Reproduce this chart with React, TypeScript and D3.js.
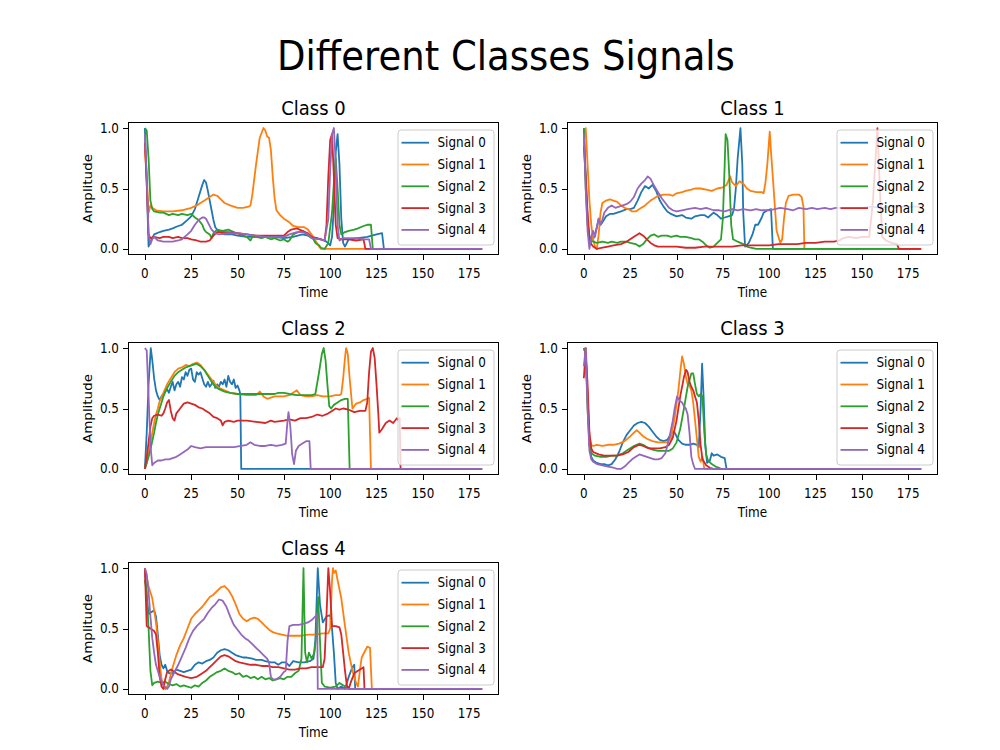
import React, { useEffect, useRef } from "react";
import * as d3 from "d3";

type Pt = [number, number];

const chartTitle = "Different Classes Signals";
const classNames = ["Class 0", "Class 1", "Class 2", "Class 3", "Class 4"];
const signalNames = ["Signal 0", "Signal 1", "Signal 2", "Signal 3", "Signal 4"];
const signalColors = ["#1f77b4", "#ff7f0e", "#2ca02c", "#d62728", "#9467bd"];
const xTicks = [0, 25, 50, 75, 100, 125, 150, 175];
const yTicks = [0, 0.5, 1];
const lastTime = 182;

// ---- Class 0 ----
const class0Signal0: Pt[] = [[0,1.0],[1,0.55],[2,0.02],[3,0.06],[5,0.12],[8,0.14],[10,0.15],[13,0.16],[15,0.17],[18,0.19],[20,0.2],[23,0.24],[25,0.27],[27,0.33],[29,0.43],[31,0.53],[32,0.57],[33,0.55],[34,0.48],[35,0.4],[36,0.32],[37,0.24],[38,0.18],[40,0.14],[43,0.12],[47,0.12],[50,0.11],[55,0.1],[60,0.1],[65,0.1],[70,0.1],[75,0.09],[80,0.1],[85,0.12],[88,0.11],[91,0.09],[95,0.08],[98,0.06],[100,0.03],[101,0.1],[102,0.35],[103,0.8],[104,0.95],[105,0.7],[106,0.25],[107,0.05],[108,0.02],[109,0.05],[110,0.08],[115,0.09],[120,0.1],[125,0.12],[128,0.13],[129,0],[182,0]];
const class0Signal1: Pt[] = [[0,0.82],[1,0.6],[2,0.3],[3,0.36],[4,0.34],[6,0.32],[10,0.31],[15,0.31],[20,0.32],[25,0.34],[28,0.36],[30,0.38],[33,0.41],[35,0.43],[37,0.45],[39,0.44],[41,0.41],[43,0.38],[46,0.36],[50,0.34],[53,0.34],[56,0.35],[57,0.36],[58,0.45],[60,0.7],[62,0.92],[64,1.0],[65,0.98],[66,0.93],[67,0.92],[68,0.82],[69,0.6],[70,0.42],[71,0.32],[73,0.28],[75,0.25],[78,0.22],[80,0.19],[83,0.18],[86,0.18],[88,0.16],[90,0.12],[92,0.07],[94,0.02],[95,0],[182,0]];
const class0Signal2: Pt[] = [[0,1.0],[1,0.98],[2,0.75],[3,0.4],[4,0.33],[5,0.31],[8,0.3],[10,0.3],[13,0.28],[15,0.29],[18,0.28],[20,0.29],[23,0.28],[25,0.29],[27,0.26],[29,0.24],[31,0.2],[32,0.16],[33,0.14],[35,0.12],[36,0.09],[37,0.13],[39,0.16],[42,0.15],[45,0.16],[48,0.14],[50,0.13],[53,0.11],[55,0.1],[57,0.07],[58,0.1],[60,0.1],[63,0.09],[65,0.1],[68,0.08],[70,0.09],[73,0.07],[75,0.08],[77,0.06],[78,0.07],[80,0.12],[83,0.14],[85,0.15],[87,0.13],[89,0.1],[91,0.08],[92,0.05],[94,0.03],[95,0.01],[97,0],[99,0.05],[101,0.3],[102,0.55],[103,0.75],[104,0.5],[105,0.2],[106,0.12],[108,0.14],[110,0.15],[113,0.16],[115,0.17],[118,0.19],[120,0.2],[122,0.2],[123,0],[182,0]];
const class0Signal3: Pt[] = [[0,0.88],[1,0.55],[2,0.12],[3,0.09],[5,0.1],[8,0.09],[10,0.1],[13,0.1],[15,0.09],[18,0.1],[20,0.09],[23,0.09],[25,0.08],[28,0.07],[30,0.06],[33,0.06],[35,0.07],[37,0.11],[39,0.14],[42,0.14],[45,0.14],[50,0.13],[55,0.12],[60,0.11],[65,0.11],[70,0.11],[75,0.11],[77,0.14],[79,0.16],[82,0.17],[85,0.15],[88,0.13],[90,0.1],[93,0.09],[95,0.08],[97,0.07],[98,0.2],[99,0.6],[100,0.9],[101,0.95],[102,0.6],[103,0.2],[104,0.09],[106,0.08],[110,0.08],[114,0.07],[118,0.08],[119,0],[182,0]];
const class0Signal4: Pt[] = [[0,0.95],[1,0.6],[2,0.12],[3,0.04],[4,0.08],[5,0.1],[7,0.07],[10,0.06],[15,0.06],[18,0.07],[20,0.08],[23,0.12],[25,0.15],[27,0.2],[29,0.24],[31,0.26],[32,0.26],[33,0.25],[34,0.22],[36,0.16],[38,0.13],[40,0.12],[45,0.13],[50,0.13],[55,0.12],[60,0.11],[65,0.1],[70,0.1],[75,0.1],[78,0.12],[82,0.14],[85,0.14],[88,0.12],[90,0.09],[95,0.08],[97,0.07],[99,0.25],[100,0.65],[101,0.95],[102,1.0],[103,0.7],[104,0.2],[105,0.07],[107,0.09],[110,0.09],[115,0.09],[118,0.08],[121,0.08],[122,0],[182,0]];

// ---- Class 1 ----
const class1Signal0: Pt[] = [[0,1.0],[1,0.6],[2,0.25],[3,0.05],[4,0.1],[5,0.08],[6,0.12],[7,0.18],[8,0.25],[9,0.2],[10,0.22],[12,0.27],[14,0.29],[16,0.29],[18,0.3],[20,0.31],[23,0.33],[25,0.33],[27,0.34],[29,0.4],[31,0.47],[33,0.52],[35,0.5],[37,0.53],[39,0.48],[41,0.4],[43,0.35],[45,0.31],[47,0.29],[50,0.27],[53,0.28],[55,0.26],[58,0.25],[60,0.27],[63,0.28],[65,0.28],[67,0.26],[70,0.3],[72,0.28],[74,0.25],[76,0.26],[78,0.27],[80,0.28],[81,0.33],[82,0.5],[83,0.75],[84.5,1.0],[85.5,0.7],[86,0.3],[87,0.02],[89,0.05],[91,0.12],[92.5,0.2],[94,0.2],[96,0.26],[97,0.3],[99,0.32],[101,0.33],[102,0],[182,0]];
const class1Signal1: Pt[] = [[0,0.9],[1,1.0],[2,0.7],[3,0.4],[4,0.2],[5,0.08],[6,0.02],[7,0],[8,0.12],[9,0.3],[10,0.38],[12,0.4],[14,0.41],[16,0.4],[18,0.39],[20,0.36],[22,0.34],[24,0.33],[26,0.31],[28,0.31],[30,0.33],[33,0.36],[36,0.4],[38,0.42],[40,0.44],[43,0.45],[46,0.45],[48,0.44],[50,0.46],[53,0.47],[55,0.48],[58,0.49],[60,0.5],[63,0.5],[66,0.49],[69,0.48],[72,0.5],[75,0.51],[77,0.53],[79,0.6],[80,0.55],[82,0.52],[84,0.56],[86,0.54],[88,0.5],[90,0.48],[93,0.47],[96,0.47],[97,0.46],[98,0.55],[99,0.7],[100.3,0.97],[101,0.8],[102.4,0.5],[104,0.15],[106,0.05],[107,0.08],[108,0.25],[109,0.38],[110.5,0.44],[113,0.45],[116,0.45],[117.5,0.43],[118.5,0.35],[119,0],[182,0]];
const class1Signal2: Pt[] = [[0,1.0],[1,0.5],[2,0.2],[3,0.1],[4,0.07],[5,0.06],[7,0.05],[10,0.06],[13,0.05],[15,0.06],[18,0.05],[20,0.06],[23,0.06],[25,0.05],[28,0.04],[30,0.02],[32,0.04],[34,0.08],[36,0.11],[38,0.12],[40,0.1],[42,0.11],[45,0.11],[47,0.1],[50,0.11],[52,0.1],[55,0.1],[58,0.09],[60,0.08],[62,0.08],[64,0.06],[66,0.03],[68,0.01],[70,0.02],[72,0.05],[74,0.08],[75,0.25],[76,0.7],[76.5,0.95],[77.5,0.9],[78.5,0.6],[79.5,0.2],[80.5,0.08],[83,0.06],[86,0.04],[88,0.02],[90,0.01],[93,0],[182,0]];
const class1Signal3: Pt[] = [[0,0.85],[1,0.6],[2,0.3],[3,0.1],[4,0.04],[5,0.02],[7,0],[10,0.01],[13,0.02],[16,0.03],[20,0.04],[23,0.06],[25,0.08],[27,0.1],[29,0.12],[30,0.13],[32,0.11],[34,0.08],[36,0.05],[38,0.03],[40,0.02],[45,0.02],[50,0.02],[55,0.01],[60,0.01],[65,0.02],[70,0.02],[75,0.02],[80,0.02],[85,0.03],[90,0.03],[95,0.03],[100,0.03],[105,0.04],[110,0.04],[115,0.04],[120,0.05],[125,0.05],[130,0.06],[135,0.06],[138,0.07],[140,0.09],[143,0.1],[147,0.09],[150,0.1],[154,0.1],[156,0.4],[158.4,1.0],[160,0.4],[161,0.1],[163,0.07],[166,0.05],[169,0.04],[170,0],[182,0]];
const class1Signal4: Pt[] = [[0,0.95],[1,0.5],[2,0.15],[3,0],[4,0.1],[5,0.15],[6,0.1],[7,0.18],[8,0.25],[9,0.2],[10,0.24],[11,0.3],[13,0.34],[15,0.36],[17,0.34],[19,0.35],[21,0.36],[23,0.37],[25,0.39],[27,0.43],[29,0.5],[31,0.54],[33,0.57],[34.5,0.6],[36,0.58],[38,0.52],[40,0.47],[42,0.42],[44,0.38],[46,0.34],[48,0.32],[50,0.31],[53,0.32],[56,0.33],[60,0.34],[63,0.33],[66,0.34],[70,0.32],[73,0.32],[76,0.31],[80,0.33],[83,0.32],[86,0.33],[90,0.32],[93,0.33],[96,0.32],[100,0.32],[103,0.33],[106,0.34],[110,0.33],[113,0.32],[116,0.34],[120,0.33],[123,0.34],[126,0.33],[130,0.34],[133,0.33],[136,0.34],[140,0.34],[145,0.34],[150,0.34],[155,0.35],[160,0.34],[165,0.35],[170,0.35],[175,0.35],[182,0.35]];

// ---- Class 2 ----
const class2Signal0: Pt[] = [[0,0],[1,0.3],[2,0.7],[3.2,1.0],[4,0.9],[5,0.75],[6,0.65],[7,0.6],[8,0.57],[9,0.6],[10,0.62],[12,0.66],[13,0.63],[14,0.68],[15,0.72],[16,0.65],[17,0.7],[18,0.72],[19,0.68],[20,0.76],[21,0.74],[22,0.8],[23,0.77],[24,0.82],[25,0.83],[26,0.74],[27,0.72],[28,0.8],[29,0.78],[30,0.8],[31,0.75],[32,0.7],[33,0.68],[34,0.72],[35,0.68],[36,0.7],[37,0.73],[38,0.67],[39,0.7],[40,0.68],[41,0.72],[42,0.7],[43,0.74],[44,0.68],[45,0.77],[46,0.72],[47,0.7],[48,0.74],[49,0.67],[50,0.69],[51,0.65],[51.5,0.62],[52,0],[182,0]];
const class2Signal1: Pt[] = [[0,0],[1,0.05],[2,0.13],[3,0.22],[4,0.3],[5,0.38],[6,0.45],[7,0.5],[8,0.56],[10,0.63],[12,0.7],[14,0.75],[16,0.8],[18,0.83],[20,0.84],[22,0.86],[24,0.85],[26,0.87],[28,0.88],[30,0.86],[32,0.82],[34,0.78],[36,0.74],[38,0.7],[40,0.67],[43,0.65],[46,0.63],[50,0.62],[55,0.61],[60,0.61],[62,0.64],[64,0.6],[66,0.58],[68,0.59],[70,0.6],[75,0.6],[78,0.61],[80,0.63],[82,0.65],[84,0.61],[87,0.6],[90,0.6],[93,0.61],[96,0.6],[100,0.6],[103,0.61],[105,0.61],[106,0.62],[107,0.75],[108,0.92],[108.6,1.0],[109.5,0.95],[110.5,0.75],[112,0.5],[114,0.54],[116,0.55],[118,0.57],[120,0.58],[121,0.59],[122,0],[182,0]];
const class2Signal2: Pt[] = [[0,0],[1,0.05],[2,0.1],[3,0.16],[4,0.23],[5,0.3],[6,0.38],[7,0.45],[8,0.5],[10,0.6],[12,0.67],[14,0.72],[16,0.77],[18,0.8],[20,0.82],[22,0.84],[24,0.85],[26,0.86],[28,0.87],[30,0.85],[32,0.82],[34,0.77],[36,0.72],[38,0.68],[40,0.66],[43,0.64],[46,0.63],[50,0.62],[55,0.62],[60,0.62],[65,0.62],[70,0.62],[72,0.63],[75,0.63],[78,0.62],[82,0.61],[86,0.61],[90,0.61],[92,0.62],[94,0.8],[95.5,0.95],[96.5,1.0],[97.5,0.9],[98.5,0.7],[99.5,0.52],[100.5,0.5],[102,0.53],[104,0.55],[106,0.57],[108,0.58],[109.5,0.58],[110.5,0],[182,0]];
const class2Signal3: Pt[] = [[0,0],[1,0.1],[2,0.22],[3,0.35],[4,0.42],[5,0.44],[7,0.45],[9,0.44],[10,0.46],[11,0.5],[12,0.55],[13,0.57],[14,0.48],[15,0.42],[16,0.4],[17,0.46],[19,0.5],[21,0.54],[23,0.55],[25,0.54],[27,0.53],[29,0.51],[31,0.5],[33,0.48],[35,0.46],[37,0.43],[39,0.42],[41,0.4],[42,0.36],[43,0.39],[45,0.4],[48,0.39],[50,0.4],[55,0.4],[60,0.39],[65,0.38],[68,0.4],[70,0.39],[75,0.4],[78,0.41],[81,0.4],[84,0.42],[87,0.42],[90,0.43],[93,0.45],[96,0.44],[99,0.46],[101,0.48],[103,0.5],[105,0.49],[107,0.5],[110,0.49],[113,0.47],[116,0.48],[119,0.48],[120,0.55],[121,0.8],[122,0.97],[123,1.0],[124,0.92],[125,0.7],[126,0.45],[126.5,0.3],[128,0.33],[130,0.38],[132,0.4],[134,0.38],[136,0.42],[137,0.4],[137.5,0.42],[138,0],[182,0]];
const class2Signal4: Pt[] = [[0,1.0],[1,0.98],[2,0.6],[3,0.2],[4,0.03],[5,0.05],[7,0.07],[9,0.07],[11,0.08],[13,0.08],[15,0.09],[17,0.1],[19,0.12],[21,0.14],[23,0.16],[25,0.19],[27,0.18],[30,0.17],[33,0.18],[36,0.18],[40,0.18],[44,0.18],[48,0.18],[52,0.19],[55,0.2],[57,0.22],[59,0.2],[62,0.19],[65,0.19],[68,0.2],[71,0.19],[74,0.2],[76,0.21],[77,0.4],[77.5,0.47],[78.5,0.35],[79.5,0.12],[80.5,0.04],[81.5,0.15],[83,0.19],[85,0.21],[87,0.23],[88.8,0.23],[89.5,0],[182,0]];

// ---- Class 3 ----
const class3Signal0: Pt[] = [[0,1.0],[1,0.95],[2,0.6],[3,0.2],[4,0.1],[5,0.07],[7,0.05],[9,0.04],[11,0.04],[13,0.03],[15,0.04],[17,0.08],[19,0.14],[21,0.22],[23,0.28],[25,0.32],[27,0.36],[29,0.38],[31,0.39],[33,0.38],[35,0.35],[37,0.31],[39,0.27],[41,0.24],[43,0.23],[45,0.24],[47,0.29],[48,0.31],[49,0.3],[51,0.24],[53,0.21],[55,0.2],[57,0.2],[59,0.21],[61,0.2],[62,0.18],[63,0.5],[63.8,0.87],[64.6,0.6],[65.5,0.2],[66.5,0.05],[68,0.07],[69,0.13],[70,0.11],[72,0.12],[74,0.1],[76,0.09],[77,0],[182,0]];
const class3Signal1: Pt[] = [[0,1.0],[1,0.95],[2,0.6],[3,0.27],[4,0.2],[5,0.19],[7,0.2],[10,0.19],[13,0.2],[16,0.2],[19,0.21],[22,0.23],[25,0.27],[27,0.3],[28.5,0.32],[30,0.3],[32,0.27],[34,0.25],[37,0.23],[40,0.22],[43,0.22],[45,0.22],[47,0.26],[49,0.42],[51,0.65],[52,0.8],[53,0.93],[54,0.87],[55,0.77],[56,0.7],[57,0.69],[58,0.65],[59,0.55],[60,0.4],[61,0.25],[62,0.1],[63,0.06],[64,0.1],[65,0],[182,0]];
const class3Signal2: Pt[] = [[0,1.0],[1,0.95],[2,0.5],[3,0.2],[4,0.13],[6,0.11],[9,0.1],[12,0.1],[15,0.11],[18,0.11],[21,0.13],[24,0.16],[27,0.19],[30,0.21],[32,0.2],[34,0.18],[37,0.16],[40,0.15],[43,0.15],[46,0.15],[48,0.17],[50,0.22],[52,0.33],[54,0.5],[56,0.68],[58,0.79],[59,0.79],[60,0.7],[61,0.62],[62,0.6],[63,0.62],[64,0.6],[65,0.3],[66,0.12],[67,0.07],[69,0.04],[71,0.02],[73,0.01],[74,0],[182,0]];
const class3Signal3: Pt[] = [[0,0.75],[1,1.0],[2,0.7],[3,0.3],[4,0.17],[5,0.14],[8,0.12],[11,0.11],[15,0.11],[18,0.11],[21,0.12],[24,0.14],[27,0.18],[30,0.2],[32,0.19],[35,0.17],[38,0.17],[41,0.17],[44,0.18],[46,0.2],[48,0.26],[50,0.4],[52,0.6],[54,0.76],[55.2,0.82],[56,0.8],[57,0.72],[58,0.68],[59,0.65],[60,0.6],[61,0.55],[62,0.4],[63,0.2],[64,0.08],[66,0.03],[68,0.01],[70,0],[182,0]];
const class3Signal4: Pt[] = [[0,0.85],[1,1.0],[2,0.5],[3,0.15],[4,0.08],[5,0.06],[7,0.04],[10,0.03],[13,0.02],[16,0.01],[18,0],[20,0],[22,0.02],[24,0.05],[26,0.08],[28,0.1],[30,0.12],[32,0.11],[34,0.1],[36,0.09],[38,0.08],[40,0.08],[42,0.09],[44,0.13],[46,0.25],[48,0.4],[49,0.5],[50.3,0.6],[51,0.58],[52,0.56],[53,0.55],[54,0.52],[55,0.5],[56,0.45],[57,0.3],[58,0.1],[59,0.04],[60,0],[182,0]];

// ---- Class 4 ----
const class4Signal0: Pt[] = [[0,1.0],[1,0.75],[2,0.62],[3,0.63],[4,0.64],[5,0.65],[6,0.6],[7,0.45],[8,0.28],[9,0.2],[10,0.17],[11,0.2],[12,0.15],[13,0.13],[15,0.13],[17,0.16],[19,0.15],[21,0.14],[23,0.15],[25,0.16],[27,0.2],[29,0.22],[31,0.21],[33,0.23],[35,0.24],[37,0.26],[39,0.3],[41,0.32],[43,0.33],[45,0.32],[47,0.3],[49,0.28],[51,0.27],[53,0.26],[55,0.26],[58,0.25],[60,0.24],[63,0.24],[65,0.23],[68,0.22],[70,0.22],[72,0.2],[74,0.22],[76,0.22],[78,0.19],[80,0.23],[83,0.22],[86,0.22],[89,0.23],[91,0.25],[92,0.4],[93.3,1.0],[94.5,0.7],[96,0.55],[98,0.6],[100,0.61],[101,0.5],[102,0.3],[103,0.05],[104,0],[106,0.02],[108,0],[110,0.1],[112,0.18],[113,0.2],[113.5,0],[182,0]];
const class4Signal1: Pt[] = [[0,1.0],[2,0.85],[4,0.75],[5,0.65],[6,0.55],[7,0.4],[8,0.22],[9,0.08],[10,0.02],[11,0],[12,0.02],[13,0.06],[15,0.18],[17,0.28],[19,0.36],[21,0.42],[23,0.5],[25,0.58],[27,0.62],[29,0.65],[31,0.68],[33,0.72],[35,0.76],[37,0.78],[39,0.81],[41,0.84],[43,0.85],[45,0.82],[47,0.77],[49,0.7],[51,0.62],[53,0.58],[55,0.56],[57,0.58],[59,0.59],[61,0.58],[63,0.55],[65,0.52],[67,0.49],[69,0.47],[71,0.46],[74,0.45],[77,0.44],[80,0.44],[84,0.44],[88,0.45],[92,0.45],[96,0.46],[99,0.46],[100,0.5],[101,0.9],[101.5,1.0],[102,0.96],[103,0.98],[104,0.9],[106,0.75],[108,0.52],[110,0.3],[112,0.15],[114,0.05],[115,0.02],[116,0.15],[117,0.26],[119,0.32],[120,0.35],[121.5,0.34],[122.5,0],[182,0]];
const class4Signal2: Pt[] = [[0,0.9],[1,0.8],[2,0.5],[3,0.15],[4,0.03],[5,0.05],[7,0.06],[9,0.05],[11,0.06],[13,0.04],[15,0.03],[17,0.04],[19,0.02],[21,0.03],[23,0.02],[25,0.01],[27,0.03],[29,0.02],[31,0.05],[33,0.07],[35,0.1],[37,0.12],[39,0.14],[41,0.15],[43,0.17],[45,0.15],[47,0.14],[49,0.12],[51,0.13],[53,0.1],[55,0.11],[57,0.09],[59,0.1],[61,0.08],[63,0.1],[65,0.08],[67,0.09],[69,0.07],[71,0.08],[73,0.09],[75,0.08],[77,0.1],[79,0.1],[81,0.13],[83,0.15],[84.5,0.25],[85.6,1.0],[86.5,0.3],[87.5,0.22],[88.5,0.3],[90,0.25],[91.5,0.3],[92.5,0.45],[93.5,0.76],[94.5,0.4],[95.5,0.05],[97,0.02],[100,0.01],[103,0.02],[105,0.05],[107,0.03],[109,0.01],[110,0],[182,0]];
const class4Signal3: Pt[] = [[0,1.0],[1,0.52],[3,0.5],[5,0.48],[6,0.45],[7,0.3],[8,0.1],[9,0.02],[10,0],[11,0.08],[12,0.14],[14,0.16],[16,0.14],[18,0.12],[20,0.11],[22,0.1],[25,0.09],[28,0.1],[30,0.12],[33,0.15],[35,0.18],[37,0.21],[39,0.24],[41,0.27],[43,0.28],[45,0.27],[47,0.25],[49,0.23],[51,0.22],[54,0.21],[57,0.2],[60,0.2],[63,0.19],[66,0.19],[69,0.18],[72,0.18],[75,0.17],[78,0.16],[81,0.16],[84,0.17],[87,0.17],[90,0.18],[93,0.18],[96,0.18],[97,0.25],[98,0.6],[99,1.0],[100,0.8],[101,0.52],[103,0.52],[105,0.51],[106,0.45],[107,0.3],[108,0.15],[109,0.03],[110,0],[111,0.05],[113,0.13],[115,0.15],[117,0.17],[118,0.18],[118.5,0],[182,0]];
const class4Signal4: Pt[] = [[0,1.0],[1,0.95],[2,0.8],[3,0.6],[4,0.42],[5,0.3],[6,0.2],[8,0.1],[10,0.03],[12,0],[13,0.02],[14,0.08],[16,0.14],[18,0.2],[20,0.27],[22,0.34],[24,0.42],[26,0.48],[28,0.52],[30,0.55],[32,0.58],[34,0.63],[36,0.67],[38,0.7],[40,0.74],[42,0.73],[44,0.68],[46,0.6],[48,0.53],[50,0.49],[52,0.45],[54,0.42],[56,0.4],[58,0.37],[60,0.34],[62,0.31],[64,0.28],[66,0.25],[67,0.22],[68,0.1],[69,0.08],[71,0.08],[73,0.1],[75,0.14],[76,0.15],[77,0.4],[78,0.52],[80,0.53],[83,0.53],[86,0.54],[88,0.55],[90,0.57],[92,0.6],[93,0.62],[93.3,0],[182,0]];

const classSignals: Pt[][][] = [
  [class0Signal0, class0Signal1, class0Signal2, class0Signal3, class0Signal4],
  [class1Signal0, class1Signal1, class1Signal2, class1Signal3, class1Signal4],
  [class2Signal0, class2Signal1, class2Signal2, class2Signal3, class2Signal4],
  [class3Signal0, class3Signal1, class3Signal2, class3Signal3, class3Signal4],
  [class4Signal0, class4Signal1, class4Signal2, class4Signal3, class4Signal4],
];

const FONT = "DejaVu Sans, sans-serif";
const STRETCH = 1.12; // the reference text looks a bit taller than it is wide

const App = () => {
  const ref = useRef<SVGSVGElement>(null);

  useEffect(() => {
    const svg = d3.select(ref.current);
    svg.selectAll("*").remove();

    const addText = (g, x, y, str, size, anchor = "middle", rotate = 0) =>
      g
        .append("text")
        .attr("transform", `translate(${x},${y}) scale(1,${STRETCH}) rotate(${rotate})`)
        .attr("text-anchor", anchor)
        .attr("font-family", FONT)
        .attr("font-size", size)
        .attr("fill", "#000")
        .text(str);

    addText(svg, 506, 70, chartTitle, 37);

    const colLeft = [128, 567];
    const rowTop = [122, 342, 562];
    const w = 371,
      h = 133;

    classNames.forEach((name, ci) => {
      const left = colLeft[ci % 2];
      const top = rowTop[Math.floor(ci / 2)];
      const g = svg.append("g").attr("transform", `translate(${left},${top})`);

      const x = d3.scaleLinear().domain([-0.05 * lastTime, 1.05 * lastTime]).range([0, w]);
      const y = d3.scaleLinear().domain([-0.05, 1.05]).range([h, 0]);

      const line = d3
        .line<Pt>()
        .x((d) => x(d[0]))
        .y((d) => y(d[1]));

      classSignals[ci].forEach((series, si) => {
        g.append("path")
          .datum(series)
          .attr("d", line)
          .attr("fill", "none")
          .attr("stroke", signalColors[si])
          .attr("stroke-width", 1.8)
          .attr("stroke-linejoin", "round");
      });

      // frame
      g.append("rect")
        .attr("x", 0.5)
        .attr("y", 0.5)
        .attr("width", w - 1)
        .attr("height", h - 1)
        .attr("fill", "none")
        .attr("stroke", "#000")
        .attr("stroke-width", 1);

      // x ticks
      xTicks.forEach((t) => {
        const px = Math.round(x(t)) + 0.5;
        g.append("line")
          .attr("x1", px)
          .attr("x2", px)
          .attr("y1", h)
          .attr("y2", h + 5)
          .attr("stroke", "#000");
        addText(g, x(t), h + 23, String(t), 12);
      });

      // y ticks
      yTicks.forEach((t) => {
        const py = Math.round(y(t)) + 0.5;
        g.append("line")
          .attr("x1", -5)
          .attr("x2", 0)
          .attr("y1", py)
          .attr("y2", py)
          .attr("stroke", "#000");
        addText(g, -9, y(t) + 4.5, d3.format(".1f")(t), 12, "end");
      });

      addText(g, w / 2, h + 42, "Time", 12);
      addText(g, -36, h / 2, "Amplitude", 12, "middle", -90);
      addText(g, w / 2, -7, name, 18);

      // legend
      const lg = g.append("g").attr("transform", `translate(${w - 101},8)`);
      lg.append("rect")
        .attr("width", 96)
        .attr("height", 115)
        .attr("rx", 3)
        .attr("fill", "white")
        .attr("fill-opacity", 0.8)
        .attr("stroke", "#cccccc")
        .attr("stroke-width", 1);
      signalNames.forEach((s, si) => {
        const ry = 12.7 + si * 21.8;
        lg.append("line")
          .attr("x1", 3.5)
          .attr("x2", 31)
          .attr("y1", ry)
          .attr("y2", ry)
          .attr("stroke", signalColors[si])
          .attr("stroke-width", 1.8);
        addText(lg, 39.5, ry + 4.5, s, 12, "start");
      });
    });
  }, []);

  return (
    <svg
      ref={ref}
      width={1000}
      height={750}
      style={{ position: "absolute", left: 0, top: 0, background: "white" }}
    />
  );
};

export default App;
